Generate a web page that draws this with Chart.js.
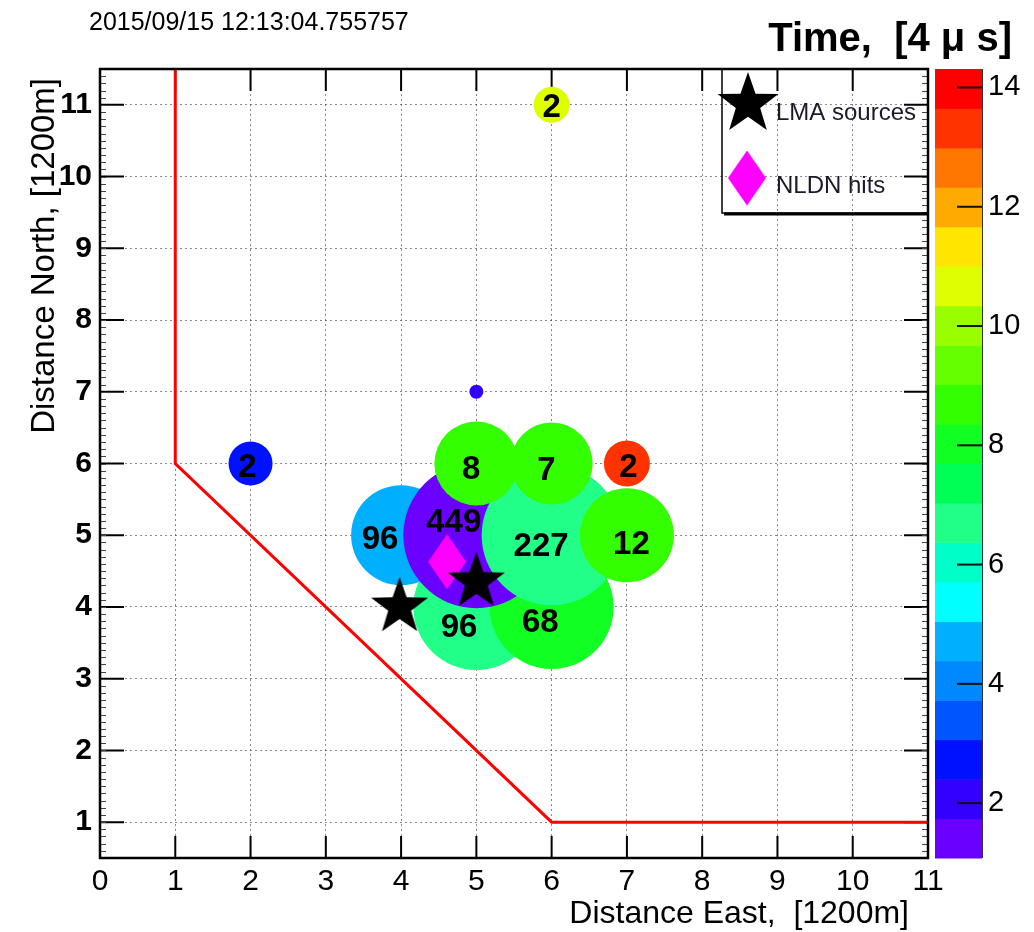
<!DOCTYPE html>
<html>
<head>
<meta charset="utf-8">
<title>LMA / NLDN event map</title>
<script src="https://cdn.jsdelivr.net/npm/chart.js@4.4.1/dist/chart.umd.min.js"></script>
<style>
  html, body { margin: 0; padding: 0; background: #fff; }
  #wrap { width: 1034px; height: 932px; position: relative; }
</style>
</head>
<body>
<div id="wrap"><canvas id="map"></canvas></div>
<script>
// grid cells with sources, in draw order (later ones sit on top)
const cellX    = [5, 4, 6, 5, 6, 5, 6, 7, 2, 6, 7, 5];
const cellY    = [4, 5, 4, 5, 5, 6, 6, 5, 6, 11, 6, 7];
const cellR    = [63, 50, 62, 73, 70, 42, 41, 47, 22, 18, 23, 7];   // marker radius, px
const cellTime = [6.7, 4.7, 8.0, 1.4, 6.7, 8.7, 8.7, 8.7, 2.7, 10.7, 13.3, 2.1];
const cellCount = [96, 96, 68, 449, 227, 8, 7, 12, 2, 2, 2, null];
const countX   = [4.77, 3.72, 5.85, 4.70, 5.86, 4.93, 5.93, 7.06, 1.96, 6.0, 7.02, null];
const countY   = [3.71, 4.93, 3.78, 5.17, 4.84, 5.91, 5.89, 4.87, 5.94, 10.96, 5.94, null];

// LMA sources and NLDN hit
const lmaX = [3.98, 5.0];
const lmaY = [4.0, 4.35];
const nldnX = [4.61];
const nldnY = [4.63];

// network boundary
const edgeX = [1, 1, 6, 11];
const edgeY = [11.5, 6, 1, 1];

// axes
const xTicks = [0, 1, 2, 3, 4, 5, 6, 7, 8, 9, 10, 11];
const yTicks = [1, 2, 3, 4, 5, 6, 7, 8, 9, 10, 11];
const zTicks = [2, 4, 6, 8, 10, 12, 14];
const zMin = 1.08, zMax = 14.31;

// colour palette, lowest band first
const palette = ['#6a00ff', '#3300ff', '#0011ff', '#0055ff', '#0088ff', '#00b0ff', '#00ffff',
  '#00ffc8', '#22ff88', '#00ff55', '#11ff22', '#33ff00', '#66ff00', '#99ff00', '#ddff00',
  '#ffe600', '#ffaa00', '#ff7700', '#ff3300', '#ff0000'];

function timeColour(t) {
  let i = Math.floor((t - zMin) / (zMax - zMin) * palette.length);
  i = Math.max(0, Math.min(palette.length - 1, i));
  return palette[i];
}

function makeStar(R) {
  const c = document.createElement('canvas');
  c.width = c.height = Math.ceil(2 * R + 4);
  const g = c.getContext('2d');
  const cx = c.width / 2, cy = c.height / 2, r = R * 0.4;
  g.beginPath();
  for (let i = 0; i < 10; i++) {
    const a = -Math.PI / 2 + i * Math.PI / 5;
    const rr = i % 2 ? r : R;
    g.lineTo(cx + rr * Math.cos(a), cy + rr * Math.sin(a));
  }
  g.closePath();
  g.fillStyle = '#000';
  g.fill();
  return c;
}

function makeDiamond(w, h) {
  const c = document.createElement('canvas');
  c.width = w; c.height = h;
  const g = c.getContext('2d');
  g.beginPath();
  g.moveTo(w / 2, 0); g.lineTo(w, h / 2); g.lineTo(w / 2, h); g.lineTo(0, h / 2);
  g.closePath();
  g.fillStyle = '#ff00ff';
  g.fill();
  return c;
}

const starImg = makeStar(30);
const legendStar = makeStar(32);
const diamondImg = makeDiamond(38, 55);

const decor = {
  id: 'decor',
  beforeDatasetsDraw(chart) {
    const ctx = chart.ctx, z = chart.scales.z, a = chart.chartArea;
    const xs = chart.scales.x, ys = chart.scales.y;
    ctx.save();

    // colour bar bands
    const x0 = z.left + 7, w = 47;
    const step = (zMax - zMin) / palette.length;
    palette.forEach((col, i) => {
      const yb = z.getPixelForValue(zMin + i * step);
      const yt = z.getPixelForValue(zMin + (i + 1) * step);
      ctx.fillStyle = col;
      ctx.fillRect(x0, yt, w, yb - yt + 0.5);
    });
    ctx.strokeStyle = '#333';
    ctx.lineWidth = 1;
    ctx.beginPath();
    ctx.moveTo(x0 + w + 0.5, z.top);
    ctx.lineTo(x0 + w + 0.5, z.bottom);
    ctx.stroke();
    ctx.lineWidth = 2;
    ctx.strokeStyle = '#111';
    zTicks.forEach(v => {
      const y = z.getPixelForValue(v);
      ctx.beginPath();
      ctx.moveTo(x0 + w - 25, y);
      ctx.lineTo(x0 + w, y);
      ctx.stroke();
    });

    // inward tick marks, under the data
    ctx.strokeStyle = '#000';
    ctx.lineWidth = 2;
    ctx.beginPath();
    xTicks.forEach(v => {
      const x = xs.getPixelForValue(v);
      ctx.moveTo(x, a.bottom); ctx.lineTo(x, a.bottom - 22);
      ctx.moveTo(x, a.top); ctx.lineTo(x, a.top + 22);
    });
    yTicks.forEach(v => {
      const y = ys.getPixelForValue(v);
      ctx.moveTo(a.left, y); ctx.lineTo(a.left + 24, y);
      ctx.moveTo(a.right, y); ctx.lineTo(a.right - 24, y);
    });
    ctx.stroke();
    ctx.lineWidth = 1;
    ctx.strokeStyle = '#444';
    ctx.beginPath();
    for (let v = 0.6; v < 11.45; v += 0.1) {
      const y = Math.round(ys.getPixelForValue(v)) + 0.5;
      ctx.moveTo(a.left, y); ctx.lineTo(a.left + 6, y);
      ctx.moveTo(a.right, y); ctx.lineTo(a.right - 6, y);
    }
    ctx.stroke();
    ctx.restore();
  },
  afterDatasetsDraw(chart) {
    const ctx = chart.ctx, a = chart.chartArea;
    const xs = chart.scales.x, ys = chart.scales.y;
    ctx.save();

    // counts on the cells
    ctx.fillStyle = '#000';
    ctx.font = "bold 33px 'Liberation Sans', Arial, sans-serif";
    ctx.textAlign = 'center';
    ctx.textBaseline = 'middle';
    cellCount.forEach((n, i) => {
      if (n === null) return;
      ctx.fillText(String(n), xs.getPixelForValue(countX[i]), ys.getPixelForValue(countY[i]));
    });

    // frame
    ctx.strokeStyle = '#000';
    ctx.lineWidth = 2.5;
    ctx.strokeRect(a.left, a.top, a.right - a.left, a.bottom - a.top);

    // legend
    const lx = 722, ly = a.top, lw = a.right - lx, lh = 144;
    ctx.lineWidth = 1.5;
    ctx.strokeRect(lx, ly, lw, lh);
    ctx.lineWidth = 3;
    ctx.beginPath();
    ctx.moveTo(lx + 2, ly + lh + 1);
    ctx.lineTo(lx + lw, ly + lh + 1);
    ctx.stroke();
    ctx.drawImage(legendStar, 748 - legendStar.width / 2, 104 - legendStar.height / 2);
    ctx.drawImage(diamondImg, 747 - diamondImg.width / 2, 178 - diamondImg.height / 2);
    ctx.fillStyle = '#1a1a2a';
    ctx.font = "24px 'Liberation Sans', Arial, sans-serif";
    ctx.textAlign = 'left';
    ctx.fillText('LMA sources', 776, 113);
    ctx.fillText('NLDN hits', 776, 186);

    // titles
    ctx.fillStyle = '#000';
    ctx.textBaseline = 'alphabetic';
    ctx.font = "25px 'Liberation Sans', Arial, sans-serif";
    ctx.fillText('2015/09/15 12:13:04.755757', 89, 30);
    ctx.textAlign = 'right';
    ctx.font = "bold 40px 'Liberation Sans', Arial, sans-serif";
    ctx.fillText('Time,  [4 \u03bc s]', 1012, 51);
    ctx.font = "32px 'Liberation Sans', Arial, sans-serif";
    ctx.fillText('Distance East,  [1200m]', 909, 923);
    ctx.font = "33px 'Liberation Sans', Arial, sans-serif";
    ctx.translate(54, 78);
    ctx.rotate(-Math.PI / 2);
    ctx.fillText('Distance North, [1200m]', 0, 0);
    ctx.restore();
  }
};

const gridStyle = { color: 'rgba(40,40,40,0.55)', lineWidth: 1, drawTicks: false };

new Chart(document.getElementById('map'), {
  type: 'scatter',
  data: {
    datasets: [
      {
        type: 'line',
        label: 'boundary',
        data: edgeX.map((x, i) => ({ x, y: edgeY[i] })),
        borderColor: '#ff0000',
        borderWidth: 3,
        pointRadius: 0,
        fill: false,
        tension: 0,
        order: 4
      },
      {
        type: 'bubble',
        label: 'cells',
        data: cellX.map((x, i) => ({ x, y: cellY[i], r: cellR[i] })),
        backgroundColor: cellTime.map(timeColour),
        borderWidth: 0,
        order: 3
      },
      {
        label: 'NLDN hits',
        data: nldnX.map((x, i) => ({ x, y: nldnY[i] })),
        pointStyle: diamondImg,
        pointRadius: 10,
        order: 2
      },
      {
        label: 'LMA sources',
        data: lmaX.map((x, i) => ({ x, y: lmaY[i] })),
        pointStyle: starImg,
        pointRadius: 10,
        order: 1
      }
    ]
  },
  options: {
    responsive: true,
    maintainAspectRatio: false,
    animation: false,
    events: [],
    layout: { autoPadding: false, padding: { top: 69, left: 0, right: 0, bottom: 0 } },
    plugins: { legend: { display: false }, tooltip: { enabled: false } },
    scales: {
      x: {
        type: 'linear', min: 0, max: 11,
        afterBuildTicks: s => { s.ticks = xTicks.map(v => ({ value: v })); },
        afterFit: s => { s.height = 74; },
        grid: gridStyle,
        border: { display: false, dash: [2, 3] },
        ticks: { padding: 6, color: '#000', font: { family: "'Liberation Sans'", size: 30 }, maxRotation: 0, autoSkip: false }
      },
      y: {
        type: 'linear', min: 0.5, max: 11.5,
        afterBuildTicks: s => { s.ticks = yTicks.map(v => ({ value: v })); },
        afterFit: s => { s.width = 100; s.paddingTop = 0; s.paddingBottom = 0; },
        grid: gridStyle,
        border: { display: false, dash: [2, 3] },
        ticks: { padding: 8, color: '#000', font: { family: "'Liberation Sans'", size: 30, weight: 'bold' }, autoSkip: false }
      },
      z: {
        type: 'linear', axis: 'y', position: 'right', min: zMin, max: zMax,
        afterBuildTicks: s => { s.ticks = zTicks.map(v => ({ value: v })); },
        // the colour bar sits in this box; keep its labels from padding the plot
        afterFit: s => { s.width = 106; s.paddingTop = 0; s.paddingBottom = 0; },
        grid: { display: false, drawTicks: true, tickLength: 58 },
        border: { display: false },
        ticks: { padding: 2, color: '#000', font: { family: "'Liberation Sans'", size: 29 }, autoSkip: false }
      }
    }
  },
  plugins: [decor]
});
</script>
</body>
</html>
